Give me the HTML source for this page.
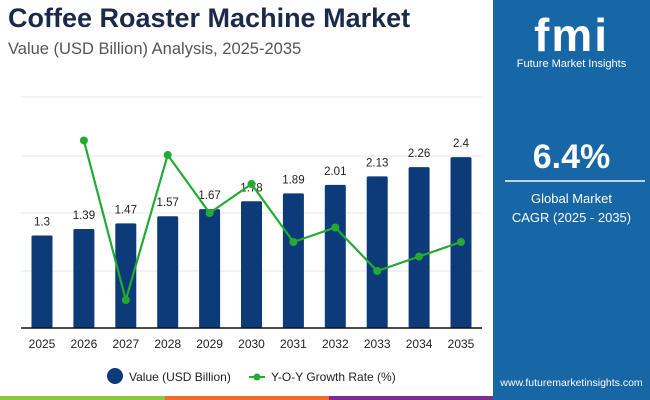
<!DOCTYPE html>
<html><head><meta charset="utf-8"><style>
body{margin:0;width:650px;height:400px;overflow:hidden;background:#fff;font-family:"Liberation Sans",sans-serif;position:relative}
.t{position:absolute;white-space:nowrap}
</style></head><body>
<div class="t" style="left:8px;top:3px;font-size:27px;font-weight:bold;color:#1b2a4a">Coffee Roaster Machine Market</div>
<div class="t" style="left:8px;top:40px;font-size:16.5px;color:#555">Value (USD Billion) Analysis, 2025-2035</div>
<div style="position:absolute;left:493px;top:0;width:157px;height:400px;background:#1766a6">
<div class="t" style="left:0;width:157px;text-align:center;top:8px;font-size:46px;font-weight:bold;color:#fff;letter-spacing:2px">fmi</div>
<div class="t" style="left:0;width:157px;text-align:center;top:58px;font-size:11px;color:#fff">Future Market Insights</div>
<div class="t" style="left:0;width:157px;text-align:center;top:138px;font-size:34px;font-weight:bold;color:#fff">6.4%</div>
<div style="position:absolute;left:12px;width:140px;top:180px;height:2px;background:#bcd3ea"></div>
<div class="t" style="left:0;width:157px;text-align:center;top:189px;font-size:13px;line-height:19px;color:#fff">Global Market<br>CAGR (2025 - 2035)</div>
<div class="t" style="left:0;width:157px;text-align:center;top:377px;font-size:10.5px;color:#fff">www.futuremarketinsights.com</div>
</div>
<div style="position:absolute;left:0;top:396px;width:165px;height:4px;background:#8dc63f"></div>
<div style="position:absolute;left:165px;top:396px;width:164px;height:4px;background:#f26b2a"></div>
<div style="position:absolute;left:329px;top:396px;width:164px;height:4px;background:#7b2d8e"></div>
<svg id="c" width="493" height="396" style="position:absolute;left:0;top:0"></svg>
<script>
const years=["2025","2026","2027","2028","2029","2030","2031","2032","2033","2034","2035"];
const values=[1.3,1.39,1.47,1.57,1.67,1.78,1.89,2.01,2.13,2.26,2.4];
const valueLabels=["1.3","1.39","1.47","1.57","1.67","1.78","1.89","2.01","2.13","2.26","2.4"];
const growth=[null,6.9,5.8,6.8,6.4,6.6,6.2,6.3,6.0,6.1,6.2];
const NS="http://www.w3.org/2000/svg",svg=document.getElementById('c');
function el(t,a){const e=document.createElementNS(NS,t);for(const k in a)e.setAttribute(k,a[k]);svg.appendChild(e);return e;}
const x=i=>42+i*41.9, yv=v=>328-v*71.2, yg=g=>271-(g-6.0)*145;
[97,156,213,271].forEach((gy,i)=>{const l=el('line',{x1:21,x2:482,y1:gy,y2:gy,stroke:'#e6e6e6'});

});
values.forEach((v,i)=>{const r=el('rect',{x:x(i)-10.5,y:yv(v),width:21,height:328-yv(v),fill:'#0d3b7a',rx:1.5});


const t=el('text',{x:x(i),y:yv(v)-10,'text-anchor':'middle','font-size':11.5,fill:'#222','font-family':'Liberation Sans'});t.textContent=valueLabels[i];


const yl=el('text',{x:x(i),y:348,'text-anchor':'middle','font-size':12,fill:'#222','font-family':'Liberation Sans'});yl.textContent=years[i];

});
const ax=el('line',{x1:21,x2:482,y1:328,y2:328,stroke:'#111','stroke-width':1.5});


let pts=[];growth.forEach((g,i)=>{if(g!=null)pts.push(x(i)+','+yg(g));});
const pl=el('polyline',{points:pts.join(' '),fill:'none',stroke:'#22aa33','stroke-width':2.2});


growth.forEach((g,i)=>{if(g==null)return;const c=el('circle',{cx:x(i),cy:yg(g),r:4,fill:'#22aa33'});

});
const lc=el('circle',{cx:115,cy:376,r:8,fill:'#0d3b7a'});


const lt=el('text',{x:129,y:381,'font-size':12,fill:'#222','font-family':'Liberation Sans'});lt.textContent='Value (USD Billion)';


const ll=el('line',{x1:249,x2:265,y1:377,y2:377,stroke:'#22aa33','stroke-width':2});


const lp=el('circle',{cx:257,cy:377,r:3.5,fill:'#22aa33'});


const lt2=el('text',{x:271,y:381,'font-size':12,fill:'#222','font-family':'Liberation Sans'});lt2.textContent='Y-O-Y Growth Rate (%)';


</script>
</body></html>
